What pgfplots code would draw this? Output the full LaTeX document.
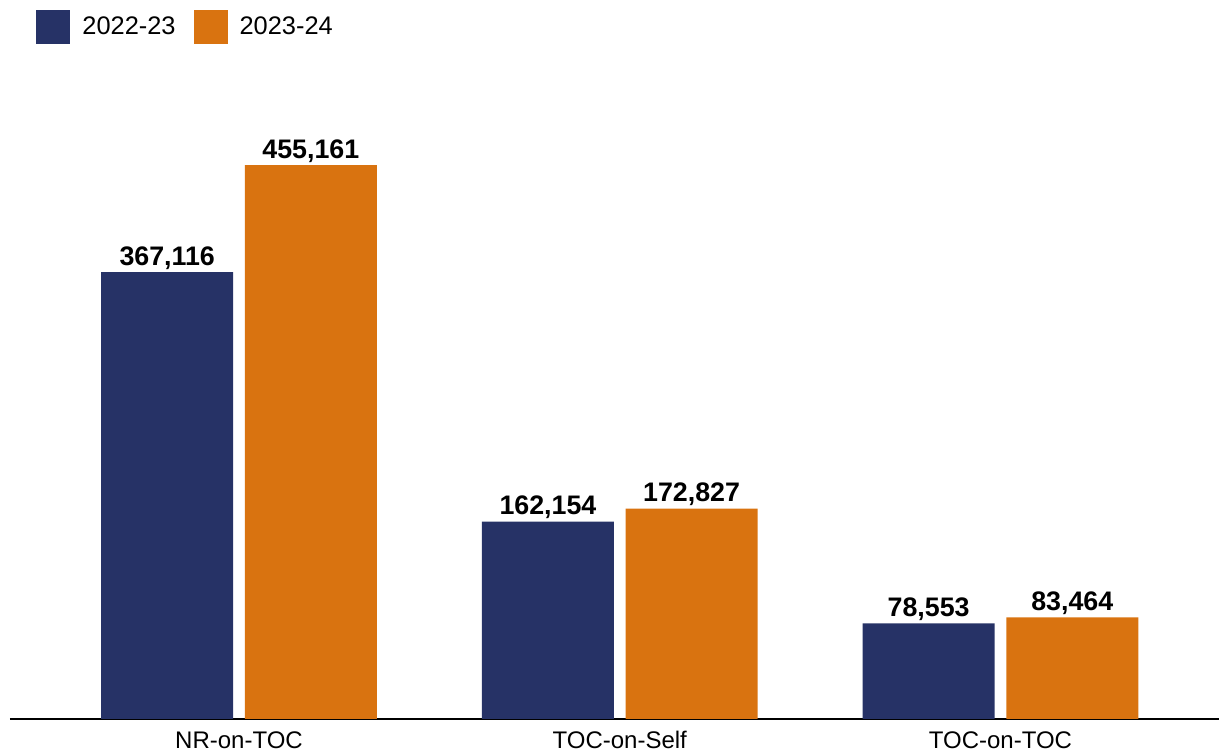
\documentclass[border=0pt]{standalone}
\usepackage{pgfplots}
\pgfplotsset{compat=1.18}
\usepackage{fontspec}
\setmainfont{Liberation Sans}
\definecolor{navy}{RGB}{38,50,102}
\definecolor{orng}{RGB}{217,115,16}
\begin{document}
\begin{tikzpicture}
\useasboundingbox (-5pt,-17.5pt) rectangle (604.5pt,359.5pt);
\begin{axis}[
  at={(0,0)}, anchor=south west,
  scale only axis, width=604.5pt, height=329.5pt,
  xmin=-0.6015, xmax=2.574, ymin=0, ymax=541500,
  ybar=5.8pt, bar width=66pt,
  axis x line*=bottom, axis y line=none,
  x axis line style={line width=0.7pt, -},
  xtick={0,1,2}, xticklabels={NR-on-TOC,TOC-on-Self,TOC-on-TOC},
  major tick length=0pt,
  xticklabel style={font=\fontsize{12}{14}\selectfont, anchor=base, yshift=-15pt},
  nodes near coords,
  nodes near coords style={font=\bfseries\fontsize{13.4}{15}\selectfont, anchor=base, yshift=3.5pt, inner sep=0pt},
  legend columns=2,
  legend style={draw=none, at={(axis description cs:0,1)}, anchor=west, xshift=13pt, yshift=16.5pt, inner sep=0pt,
    font=\fontsize{12.7}{15}\selectfont,
    /tikz/every odd column/.append style={column sep=4pt},
    /tikz/every even column/.append style={column sep=7pt}},
  legend image code/.code={\fill[#1,draw=none] (0pt,-8.5pt) rectangle (17pt,8.5pt);},
  /pgf/number format/.cd, fixed, precision=0, 1000 sep={,}, assume math mode=true
]
\addplot[fill=navy, draw=none] coordinates {(0,367116) (1,162154) (2,78553)};
\addplot[fill=orng, draw=none] coordinates {(0,455161) (1,172827) (2,83464)};
\legend{2022-23,2023-24}
\end{axis}
\end{tikzpicture}
\end{document}
